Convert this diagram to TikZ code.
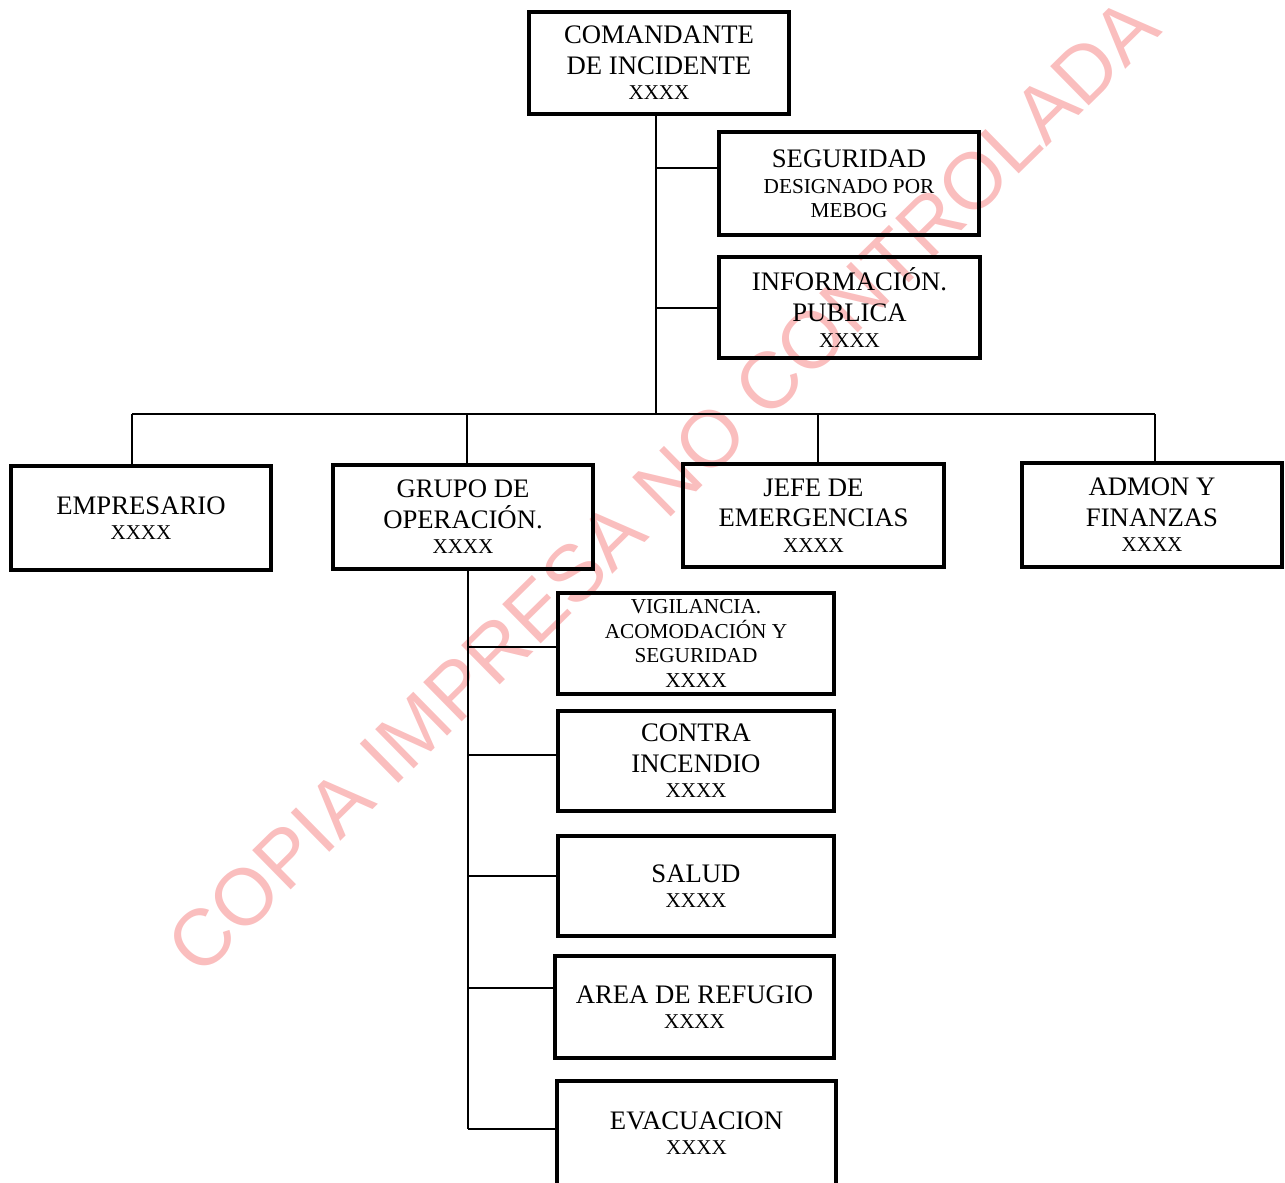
\documentclass[tikz,border=0pt]{standalone}
\usepackage{fontspec}
\setmainfont{Liberation Serif}
\newfontfamily\wmfont{Liberation Sans}
\definecolor{wmpink}{RGB}{250,190,190}
\tikzset{
  orgbox/.style={draw, line width=2.5pt, inner sep=0pt, align=center, font=\fontsize{15.2}{17.5}\selectfont},
  smallbox/.style={orgbox, font=\fontsize{12.1}{14}\selectfont},
  conn/.style={line width=1.1pt},
}
\newcommand\xxline{\\[-3pt]{\fontsize{12}{14}\selectfont XXXX}}
\begin{document}
\begin{tikzpicture}[x=0.02cm, y=-0.02cm]
\useasboundingbox (0,0) rectangle (1285,1183);
\clip (0,0) rectangle (1285,1183);
% watermark
\node[font=\wmfont\fontsize{45.5}{45.5}\selectfont, text=wmpink, rotate=44.5, inner sep=0pt] (wm) at (663,486) {COPIA IMPRESA NO CONTROLADA};
% boxes
\node[orgbox, minimum width=5.2cm, minimum height=2.04cm] (cmd) at (659,63) {COMANDANTE\\DE INCIDENTE\xxline};
\node[orgbox, minimum width=5.2cm, minimum height=2.06cm] (seg) at (849,183.5) {SEGURIDAD\\[-2.5pt]{\fontsize{12.1}{13.5}\selectfont DESIGNADO POR}\\[-4pt]{\fontsize{12.1}{13.5}\selectfont MEBOG}};
\node[orgbox, minimum width=5.22cm, minimum height=2.02cm] (info) at (849.5,307.5) {INFORMACIÓN.\\PUBLICA\xxline};
\node[orgbox, minimum width=5.2cm, minimum height=2.08cm] (emp) at (141,518) {EMPRESARIO\xxline};
\node[orgbox, minimum width=5.2cm, minimum height=2.08cm] (grupo) at (463,517) {GRUPO DE\\OPERACIÓN.\xxline};
\node[orgbox, minimum width=5.22cm, minimum height=2.06cm] (jefe) at (813.5,515.5) {JEFE DE\\EMERGENCIAS\xxline};
\node[orgbox, minimum width=5.2cm, minimum height=2.08cm] (admon) at (1152,515) {ADMON Y\\FINANZAS\xxline};
\node[smallbox, minimum width=5.52cm, minimum height=2.02cm] (vig) at (696,643.5) {VIGILANCIA.\\ACOMODACIÓN Y\\SEGURIDAD\\XXXX};
\node[orgbox, minimum width=5.52cm, minimum height=2.0cm] (contra) at (696,761) {CONTRA\\INCENDIO\xxline};
\node[orgbox, minimum width=5.52cm, minimum height=2.0cm] (salud) at (696,886) {SALUD\xxline};
\node[orgbox, minimum width=5.58cm, minimum height=2.04cm] (area) at (694.5,1007) {AREA DE REFUGIO\xxline};
\node[orgbox, minimum width=5.58cm, minimum height=2.08cm] (evac) at (696.5,1133) {EVACUACION\xxline};
% connectors
\coordinate (bc) at (656,414);
\draw[conn] (cmd.south -| bc) -- (bc);
\coordinate (s1) at (656,168);
\coordinate (s2) at (656,308);
\draw[conn] (s1) -- (s1 -| seg.west);
\draw[conn] (s2) -- (s2 -| info.west);
\coordinate (bl) at (132,414);
\coordinate (br) at (1155,414);
\coordinate (d2) at (467,414);
\coordinate (d3) at (818,414);
\draw[conn] (bl) -- (br);
\draw[conn] (bl) -- (bl |- emp.north);
\draw[conn] (d2) -- (d2 |- grupo.north);
\draw[conn] (d3) -- (d3 |- jefe.north);
\draw[conn] (br) -- (br |- admon.north);
\coordinate (g0) at (468,571);
\coordinate (g1) at (468,647);
\coordinate (g2) at (468,755);
\coordinate (g3) at (468,876);
\coordinate (g4) at (468,988);
\coordinate (g5) at (468,1129);
\draw[conn] (g0 |- grupo.south) -- (g5);
\draw[conn] (g1) -- (g1 -| vig.west);
\draw[conn] (g2) -- (g2 -| contra.west);
\draw[conn] (g3) -- (g3 -| salud.west);
\draw[conn] (g4) -- (g4 -| area.west);
\draw[conn] (g5) -- (g5 -| evac.west);
\end{tikzpicture}
\end{document}
